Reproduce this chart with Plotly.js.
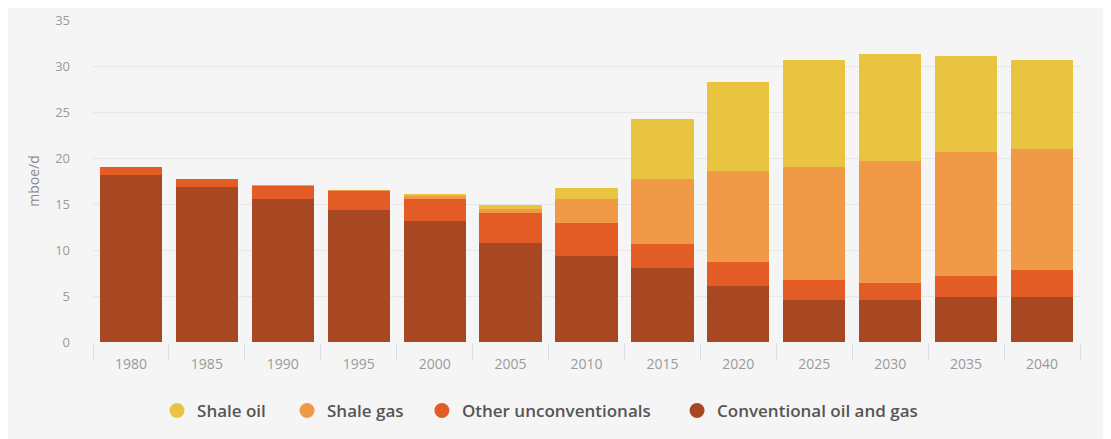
<!DOCTYPE html>
<html>
<head>
<meta charset="utf-8">
<script src="https://cdn.plot.ly/plotly-3.0.1.min.js"></script>
<style>
  html, body { margin: 0; padding: 0; background: #ffffff; }
  #chart { position: absolute; left: 8px; top: 8px; width: 1095px; height: 431px; }
</style>
</head>
<body>
<div id="chart"></div>
<script>
var years = ["1980","1985","1990","1995","2000","2005","2010","2015","2020","2025","2030","2035","2040"];
var conventional = [18.2, 16.9, 15.5, 14.3, 13.1, 10.8, 9.4, 8.0, 6.1, 4.6, 4.6, 4.9, 4.9];
var otherUnconv  = [0.8, 0.8, 1.5, 2.1, 2.4, 3.2, 3.5, 2.7, 2.6, 2.1, 1.8, 2.3, 2.9];
var shaleGas     = [0, 0, 0.1, 0.1, 0.4, 0.5, 2.6, 7.0, 9.9, 12.3, 13.3, 13.4, 13.2];
var shaleOil     = [0, 0, 0, 0, 0.2, 0.4, 1.2, 6.5, 9.7, 11.6, 11.6, 10.5, 9.6];
var seriesNames  = ["Conventional oil and gas", "Other unconventionals", "Shale gas", "Shale oil"];
var yTicks = [0, 5, 10, 15, 20, 25, 30, 35];

var colors = ["#A84823", "#E35B25", "#F09A47", "#E9C440"];
var values = [conventional, otherUnconv, shaleGas, shaleOil];
// legend entry left positions (fraction of chart container), one legend per entry
var legendX = [0.611, 0.378, 0.2548, 0.1361];
var legendIds = ["legend4", "legend3", "legend2", "legend"];

var traces = [];
for (var i = 0; i < values.length; i++) {
  traces.push({
    type: "bar", x: years, y: values[i], name: seriesNames[i],
    marker: { color: colors[i], line: { width: 0 } },
    showlegend: false, hoverinfo: "x+y+name"
  });
}
// legend-only circle markers
for (var j = 0; j < values.length; j++) {
  traces.push({
    type: "scatter", mode: "markers", x: [null], y: [null], name: seriesNames[j],
    marker: { color: colors[j], size: 15, symbol: "circle" },
    showlegend: true, hoverinfo: "skip", legend: legendIds[j]
  });
}

var layout = {
  width: 1095, height: 431,
  barmode: "stack", bargap: 0.18,
  paper_bgcolor: "#f5f5f5", plot_bgcolor: "#f5f5f5",
  margin: { l: 85, r: 23, t: 12, b: 97, autoexpand: false },
  font: { family: "Open Sans, sans-serif", color: "#999999", size: 12 },
  xaxis: {
    type: "category", tickson: "boundaries", ticks: "outside", ticklen: 17,
    tickcolor: "#d3e2ef", tickwidth: 1, showgrid: false, zeroline: false,
    showline: false, tickangle: 0, ticklabelstandoff: 12,
    tickfont: { size: 14, color: "#9a9a9a" }
  },
  yaxis: {
    range: [0, 35], tickvals: yTicks, showgrid: true, gridcolor: "#e7e7e7", gridwidth: 1,
    zeroline: false, ticks: "", ticklabelstandoff: 22, tickfont: { size: 13, color: "#9a9a9a" },
    title: { text: "mboe/d", font: { size: 14, color: "#8a8a8a" }, standoff: 12 }
  },
  showlegend: true
};
for (var k = 0; k < legendIds.length; k++) {
  layout[legendIds[k]] = {
    orientation: "h", xref: "container", yref: "container",
    x: legendX[k], xanchor: "left", y: 0.065, yanchor: "middle",
    bgcolor: "rgba(0,0,0,0)",
    font: { size: 17, color: "#555555", weight: 600 }
  };
}

Plotly.newPlot("chart", traces, layout, { displayModeBar: false, staticPlot: true });
</script>
</body>
</html>
